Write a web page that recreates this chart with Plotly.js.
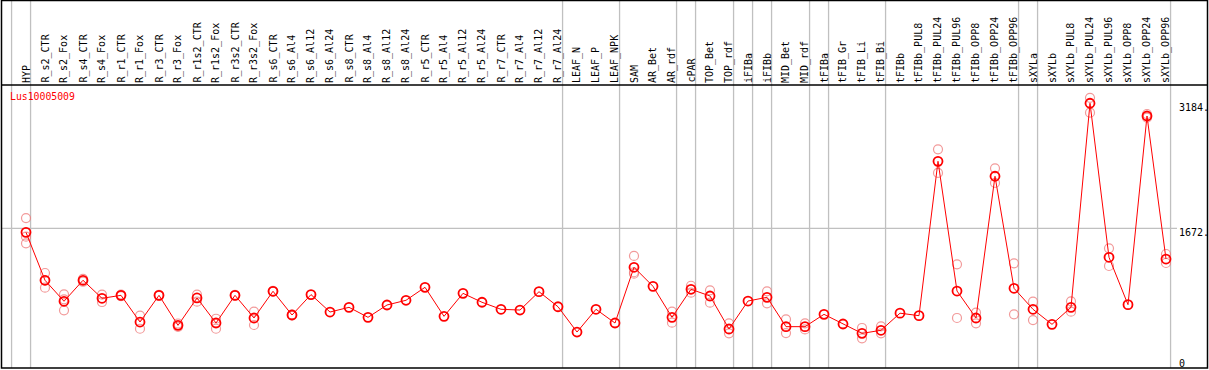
<!DOCTYPE html>
<html>
<head>
<meta charset="utf-8">
<script src="https://cdn.plot.ly/plotly-3.0.1.min.js"></script>
<style>html,body{margin:0;padding:0;background:#fff;}#chart{width:1209px;height:370px;}</style>
</head>
<body>
<div id="chart"></div>
<script>
const categories = ['HYP','R_s2_CTR','R_s2_Fox','R_s4_CTR','R_s4_Fox','R_r1_CTR','R_r1_Fox','R_r3_CTR','R_r3_Fox','R_r1s2_CTR','R_r1s2_Fox','R_r3s2_CTR','R_r3s2_Fox','R_s6_CTR','R_s6_Al4','R_s6_Al12','R_s6_Al24','R_s8_CTR','R_s8_Al4','R_s8_Al12','R_s8_Al24','R_r5_CTR','R_r5_Al4','R_r5_Al12','R_r5_Al24','R_r7_CTR','R_r7_Al4','R_r7_Al12','R_r7_Al24','LEAF_N','LEAF_P','LEAF_NPK','SAM','AR_Bet','AR_rdf','cPAR','TOP_Bet','TOP_rdf','iFIBa','iFIBb','MID_Bet','MID_rdf','tFIBa','tFIB_Gr','tFIB_Li','tFIB_Bi','tFIBb','tFIBb_PUL8','tFIBb_PUL24','tFIBb_PUL96','tFIBb_OPP8','tFIBb_OPP24','tFIBb_OPP96','sXYLa','sXYLb','sXYLb_PUL8','sXYLb_PUL24','sXYLb_PUL96','sXYLb_OPP8','sXYLb_OPP24','sXYLb_OPP96'];

const meanValues = [1623,1043,789,1043,825,861,538,861,498,829,526,861,587,910,623,870,659,716,595,744,801,958,607,885,777,692,683,905,723,417,692,526,1200,970,595,934,853,454,792,837,482,482,631,514,401,438,645,615,2482,913,587,2301,946,692,510,716,3184,1321,748,3030,1300];

const rep1 = [1796,1131,873,1060,869,870,615,868,520,869,578,866,663,915,628,null,null,null,null,null,null,null,null,null,null,null,null,null,null,null,null,null,1337,null,663,977,921,522,null,909,571,522,null,null,466,486,null,null,2627,1236,651,2397,1248,784,null,789,3250,1430,null,3054,1361];
const rep2 = [1490,953,680,1025,780,852,457,855,478,784,457,856,502,905,618,null,null,null,null,null,null,null,null,null,null,null,null,null,null,null,null,null,1123,null,530,893,772,401,null,764,405,449,null,null,341,401,null,null,2341,587,522,2220,631,562,null,663,3070,1216,null,3010,1252];
const rep3 = [1570,1043,813,null,null,null,null,null,null,null,null,null,null,null,null,null,null,null,null,null,null,null,null,null,null,null,null,null,null,null,null,null,1140,null,null,null,null,null,null,null,null,null,null,null,null,null,null,null,null,null,null,null,null,null,null,null,null,null,null,null,null];

// categories after which a group separator is drawn (plus one before the first)
const groupEnds = ['HYP','R_r7_Al24','LEAF_NPK','AR_rdf','cPAR','TOP_rdf','iFIBa','iFIBb','MID_rdf','tFIBa','tFIB_Bi','tFIBb_OPP96','sXYLa','sXYLb_OPP96'];
const geneName = 'Lus10005009';
const yTickVals = [3184, 1672, 0];
const yTickText = ['3184.', '1672.', '0'];

const idx = categories.map((c, i) => i);
const W = 1209, H = 370, mL = 1, mR = 1, mT = 85, mB = 2;
const plotW = W - mL - mR, plotH = H - mT - mB;
const xr = [-1.316, -1.316 + plotW / 19];
const yr = [-18, 3405];
const xPaper = v => (v - xr[0]) / (xr[1] - xr[0]);
const pxX = px => (px - mL) / plotW;
const pxY = py => (H - mB - py) / plotH;

const font = 'DejaVu Sans Mono, monospace';
const repStyle = {symbol: 'circle-open', size: 9, color: 'rgba(238,120,120,0.75)', line: {width: 1.2}};

const traces = [rep1, rep2, rep3].map(r => ({
  x: idx, y: r, type: 'scatter', mode: 'markers', marker: repStyle, hoverinfo: 'y', showlegend: false
}));
traces.push({
  x: idx, y: meanValues, type: 'scatter', mode: 'lines+markers',
  line: {color: '#ff0000', width: 1},
  marker: {symbol: 'circle-open', size: 9, color: '#ff0000', line: {width: 1.8}},
  showlegend: false
});

const shapes = [];
const sepPos = [-1].concat(groupEnds.map(g => categories.indexOf(g)));
sepPos.forEach(i => {
  const xp = xPaper(i + 0.24);
  shapes.push({type: 'line', xref: 'paper', yref: 'paper', x0: xp, x1: xp, y0: 0, y1: pxY(0), line: {color: '#c0c0c0', width: 1.3}, layer: 'below'});
});
shapes.push({type: 'line', xref: 'paper', yref: 'y', x0: 0, x1: pxX(1177), y0: 1672, y1: 1672, line: {color: '#c0c0c0', width: 1.3}, layer: 'below'});
// frame
shapes.push({type: 'rect', xref: 'paper', yref: 'paper', x0: pxX(1.5), x1: pxX(1207.5), y0: pxY(368), y1: pxY(0.5), line: {color: '#000', width: 1.5}});
shapes.push({type: 'line', xref: 'paper', yref: 'paper', x0: pxX(1.5), x1: pxX(1207.5), y0: 1, y1: 1, line: {color: '#000', width: 1.5}});

const annotations = [{
  text: geneName, xref: 'paper', yref: 'paper', x: pxX(8), y: pxY(97), xanchor: 'left', yanchor: 'middle',
  showarrow: false, font: {family: font, size: 9.8, color: '#ff0000'}
}];
categories.forEach((c, i) => {
  annotations.push({
    text: c, xref: 'x', yref: 'paper', x: i, y: pxY(84), xanchor: 'center', yanchor: 'bottom',
    textangle: -90, showarrow: false, borderpad: 0, font: {family: font, size: 10, color: '#000'}
  });
});
yTickVals.forEach((v, k) => {
  annotations.push({
    text: yTickText[k], xref: 'paper', yref: 'y', x: pxX(1177), y: v, xanchor: 'left',
    yanchor: v === 0 ? 'bottom' : 'top', yshift: v === 0 ? -4 : 3,
    showarrow: false, font: {family: font, size: 10, color: '#000'}
  });
});

const layout = {
  width: W, height: H,
  margin: {l: mL, r: mR, t: mT, b: mB, pad: 0},
  paper_bgcolor: '#fff', plot_bgcolor: '#fff',
  showlegend: false,
  xaxis: {range: xr, showticklabels: false, ticks: '', showgrid: false, zeroline: false, showline: false, fixedrange: true},
  yaxis: {range: yr, showgrid: false, zeroline: false, showline: false, showticklabels: false, ticks: '', fixedrange: true},
  shapes: shapes, annotations: annotations
};

Plotly.newPlot('chart', traces, layout, {displayModeBar: false, staticPlot: true});
</script>
</body>
</html>
